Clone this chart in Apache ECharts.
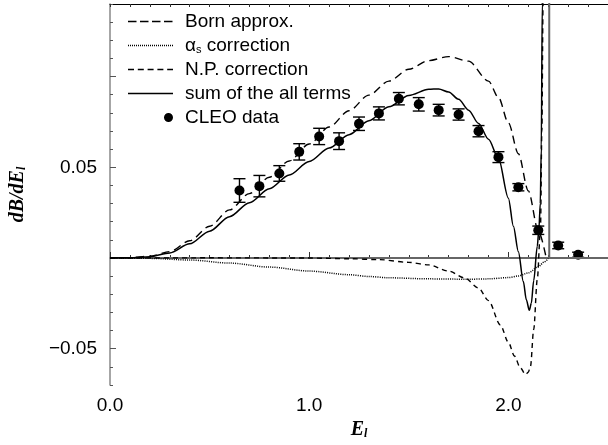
<!DOCTYPE html>
<html>
<head>
<meta charset="utf-8">
<script src="https://cdn.jsdelivr.net/npm/echarts@6/dist/echarts.min.js"></script>
<style>
html, body { margin: 0; padding: 0; background: #fff; }
#chart { width: 608px; height: 445px; }
</style>
</head>
<body>
<div id="chart"></div>
<script>
// curves, pairs of [E_l, dB/dE_l]
var bornCurve = [[0,0],[0.1,0.0002],[0.2,0.001],[0.3,0.0035],[0.4,0.0095],[0.5,0.0175],[0.6,0.0265],
	[0.7,0.0355],[0.8,0.0445],[0.9,0.0535],[1.0,0.0628],[1.1,0.0722],[1.2,0.0812],[1.3,0.0898],
	[1.4,0.0975],[1.5,0.104],[1.6,0.1088],[1.7,0.111],[1.8,0.1085],[1.9,0.0975],[1.95,0.0885],
	[2.0,0.0745],[2.05,0.0575],[2.1,0.037],[2.15,0.015],[2.19,0]];
var alphaCurve = [[0,0],[0.2,-0.0002],[0.4,-0.0011],[0.6,-0.0028],[0.8,-0.005],[1.0,-0.0072],
	[1.2,-0.0092],[1.3,-0.0102],[1.4,-0.0109],[1.6,-0.0115],[1.8,-0.0117],[1.9,-0.0115],
	[2.0,-0.0108],[2.05,-0.0099],[2.1,-0.0082],[2.15,-0.0048],[2.18,-0.0022],[2.2,-0.0002]];
var npCurve = [[0,0],[0.5,0.0001],[1.0,0],[1.2,-0.0004],[1.35,-0.0009],[1.5,-0.0024],[1.6,-0.0038],
	[1.7,-0.0072],[1.78,-0.011],[1.85,-0.0165],[1.9,-0.0235],[1.96,-0.037],[2.0,-0.0465],
	[2.03,-0.054],[2.06,-0.0605],[2.086,-0.0642],[2.1,-0.063],[2.111,-0.0596],[2.127,-0.0394],
	[2.145,-0.0118],[2.161,0.0157],[2.168,0.07],[2.174,0.14],[2.178,0.2]];
var sumCurve = [[0,0],[0.1,0.0001],[0.2,0.0007],[0.3,0.0028],[0.4,0.0078],[0.5,0.0148],[0.6,0.0228],
	[0.7,0.0305],[0.8,0.0382],[0.9,0.0458],[1.0,0.0532],[1.1,0.0606],[1.2,0.068],[1.3,0.0757],
	[1.4,0.0833],[1.5,0.0896],[1.6,0.093],[1.65,0.0932],[1.7,0.0915],[1.75,0.0875],[1.8,0.0815],
	[1.85,0.0742],[1.9,0.0655],[1.95,0.055],[2.0,0.033],[2.025,0.0175],[2.05,0.0035],[2.075,-0.013],
	[2.09,-0.023],[2.105,-0.0288],[2.115,-0.025],[2.127,-0.0125],[2.145,0.0065],[2.153,0.0157],
	[2.16,0.03],[2.165,0.06],[2.17,0.14],[2.173,0.2]];
// gray zero line with the vertical drop at the endpoint
var zeroLine = [[0,0],[2.205,0],[2.205,0.2],[2.205,0],[2.5,0]];

// CLEO data points and their errors
var cleoE = [0.65,0.75,0.85,0.95,1.05,1.15,1.25,1.35,1.45,1.55,1.65,1.75,1.85,1.95,2.05,2.15,2.25,2.35];
var cleoVal = [0.0372,0.0396,0.0466,0.0585,0.067,0.0644,0.074,0.0797,0.0878,0.0847,0.0815,0.0791,
	0.0699,0.0556,0.039,0.0153,0.0069,0.0018];
var cleoErr = [0.0065,0.0059,0.0043,0.0045,0.0045,0.0046,0.0037,0.0036,0.0034,0.0037,0.0032,0.0031,
	0.0031,0.003,0.002,0.0023,0.0018,0.0014];

var xLabelValues = [0, 1, 2];
var yLabelValues = [-0.05, 0.05];
var yMajorTicks = [-0.05, 0, 0.05, 0.1];

var sans = 'Liberation Sans';
var serifBI = {fontFamily: 'Liberation Serif', fontStyle: 'italic', fontWeight: 'bold', color: '#000'};

var cleoData = [];
var errData = [];
for (var i = 0; i < cleoE.length; i++) {
	cleoData.push([cleoE[i], cleoVal[i]]);
	errData.push([cleoE[i], cleoVal[i], cleoErr[i]]);
}

// legend sample: dashes in a 45x10 box (the two moves pin the box size)
function dashIcon(dash, gap) {
	var p = 'path://M0,0M45,10';
	var h = 1.4;
	for (var x = 0; x < 45; x += dash + gap) {
		var len = Math.min(dash, 45 - x);
		p += 'M' + x + ',' + (5 - h / 2) + 'h' + len + 'v' + h + 'h' + (-len) + 'z';
	}
	return p;
}

function renderErr(params, api) {
	var x = api.value(0), v = api.value(1), e = api.value(2);
	var top = api.coord([x, v + e]);
	var bot = api.coord([x, v - e]);
	var w = 6;
	var st = {stroke: '#000', lineWidth: 1.4};
	return {type: 'group', children: [
		{type: 'line', shape: {x1: top[0], y1: top[1], x2: bot[0], y2: bot[1]}, style: st},
		{type: 'line', shape: {x1: top[0]-w, y1: top[1], x2: top[0]+w, y2: top[1]}, style: st},
		{type: 'line', shape: {x1: bot[0]-w, y1: bot[1], x2: bot[0]+w, y2: bot[1]}, style: st}
	]};
}

var chart = echarts.init(document.getElementById('chart'));
var option = {
	animation: false,
	grid: {left: 110, top: 4, width: 501, height: 381},
	legend: {
		left: 128, top: 12, orient: 'vertical', padding: 0,
		itemWidth: 45, itemHeight: 10, itemGap: 5,
		selectedMode: false,
		itemStyle: {borderWidth: 0},
		textStyle: {fontFamily: sans, fontSize: 19, color: '#000', lineHeight: 19, padding: [0, 0, 0, 7],
			rich: {
				a: {fontFamily: sans, fontSize: 19, color: '#000'},
				s: {fontFamily: sans, fontSize: 11, color: '#000', verticalAlign: 'bottom', lineHeight: 12}
			}},
		formatter: function (name) {
			if (name == 'alpha') return '{a|\u03b1}{s|s}{a| correction}';
			return name;
		},
		data: [
			{name: 'Born approx.', icon: dashIcon(8.5, 3.5)},
			{name: 'alpha', icon: dashIcon(1, 1)},
			{name: 'N.P. correction', icon: dashIcon(6, 3.8)},
			{name: 'sum of the all terms', icon: dashIcon(45, 0)},
			{name: 'CLEO data', icon: 'path://M0,5L0.1,5M40,5a5,5 0 1,0 10,0a5,5 0 1,0 -10,0z'}
		]
	},
	xAxis: [{
		type: 'value', position: 'bottom', min: 0, max: 2.5, interval: 0.1,
		axisLine: {lineStyle: {color: '#777', width: 1.5}},
		axisTick: {inside: true, length: 3, lineStyle: {color: '#333'}},
		axisLabel: {customValues: xLabelValues, margin: 11, fontFamily: sans, fontSize: 19, color: '#000',
			formatter: function (v) { return v.toFixed(1); }},
		splitLine: {show: false},
		name: '{a|E}{s|l}', nameLocation: 'middle', nameGap: 32,
		nameTextStyle: {rich: {
			a: Object.assign({fontSize: 20, lineHeight: 20}, serifBI),
			s: Object.assign({fontSize: 12, lineHeight: 12, verticalAlign: 'bottom'}, serifBI)
		}}
	}, {
		type: 'value', position: 'bottom', min: 0, max: 2.5,
		axisLine: {show: false},
		axisTick: {inside: true, length: 6, customValues: xLabelValues, lineStyle: {color: '#333'}},
		axisLabel: {show: false}, splitLine: {show: false}
	}, {
		type: 'value', position: 'top', min: 0, max: 2.5, interval: 0.1,
		axisLine: {lineStyle: {color: '#000', width: 1}},
		axisTick: {inside: true, length: 3, lineStyle: {color: '#333'}},
		axisLabel: {show: false}, splitLine: {show: false}
	}],
	yAxis: [{
		type: 'value', position: 'left', min: -0.07, max: 0.14, interval: 0.01,
		axisLine: {show: true, lineStyle: {color: '#888', width: 1.5}},
		axisTick: {show: true, inside: true, length: 3, lineStyle: {color: '#555'}},
		axisLabel: {customValues: yLabelValues, margin: 13, fontFamily: sans, fontSize: 19, color: '#000',
			formatter: function (v) { return v < 0 ? '\u22120.05' : '0.05'; }},
		splitLine: {show: false},
		name: '{a|dB/dE}{s|l}', nameLocation: 'middle', nameGap: 82, nameRotate: 90,
		nameTextStyle: {rich: {
			a: Object.assign({fontSize: 20, lineHeight: 20}, serifBI),
			s: Object.assign({fontSize: 12, lineHeight: 12, verticalAlign: 'bottom'}, serifBI)
		}}
	}, {
		type: 'value', position: 'left', min: -0.07, max: 0.14,
		axisLine: {show: false},
		axisTick: {show: true, inside: true, length: 6, customValues: yMajorTicks, lineStyle: {color: '#555'}},
		axisLabel: {show: false}, splitLine: {show: false}
	}],
	series: [{
		name: 'zero', type: 'line', data: zeroLine, symbol: 'none',
		lineStyle: {color: '#666', width: 2}
	}, {
		name: 'Born approx.', type: 'line', data: bornCurve, symbol: 'none', smooth: 0.3, smoothMonotone: 'x',
		itemStyle: {color: '#000'}, lineStyle: {color: '#000', width: 1.4, type: [8, 5]}
	}, {
		name: 'alpha', type: 'line', data: alphaCurve, symbol: 'none', smooth: 0.3, smoothMonotone: 'x',
		itemStyle: {color: '#000'}, lineStyle: {color: '#000', width: 1.5, type: [1, 1.2]}
	}, {
		name: 'N.P. correction', type: 'line', data: npCurve, symbol: 'none', smooth: 0.3, smoothMonotone: 'x',
		itemStyle: {color: '#000'}, lineStyle: {color: '#000', width: 1.4, type: [5, 4]}
	}, {
		name: 'sum of the all terms', type: 'line', data: sumCurve, symbol: 'none', smooth: 0.3, smoothMonotone: 'x',
		itemStyle: {color: '#000'}, lineStyle: {color: '#000', width: 1.5}
	}, {
		name: 'errors', type: 'custom', data: errData, renderItem: renderErr
	}, {
		name: 'CLEO data', type: 'scatter', data: cleoData, symbol: 'circle', symbolSize: 10,
		itemStyle: {color: '#000', opacity: 1}
	}]
};
chart.setOption(option);
</script>
</body>
</html>
